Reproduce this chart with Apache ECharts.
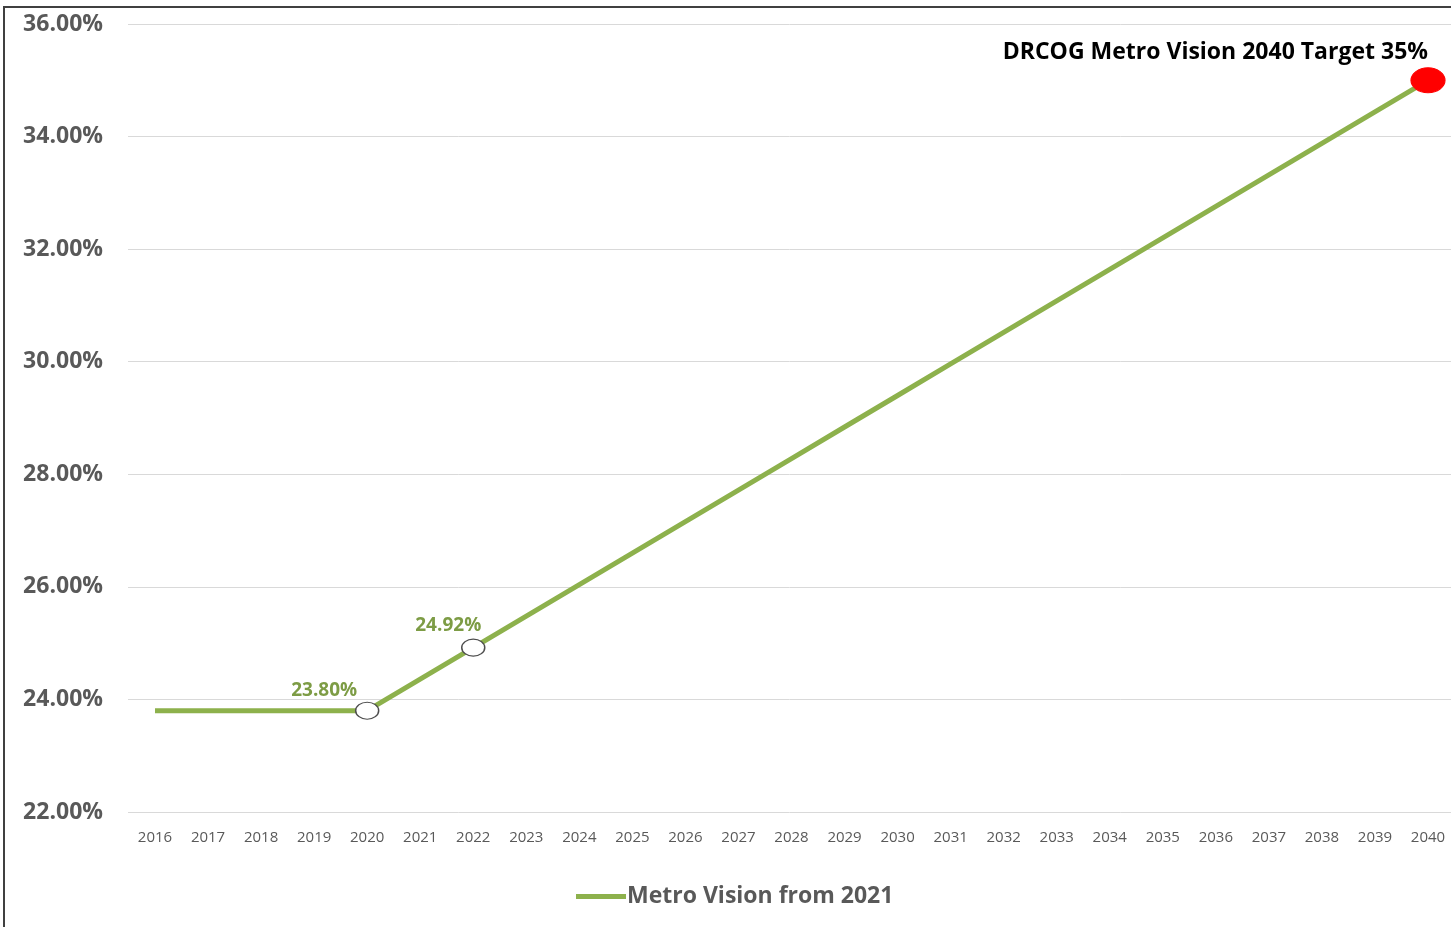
<!DOCTYPE html>
<html>
<head>
<meta charset="utf-8">
<script src="https://cdn.jsdelivr.net/npm/echarts@6/dist/echarts.min.js"></script>
<style>html,body{margin:0;padding:0;background:#fff}#c{width:1451px;height:927px}</style>
</head>
<body>
<div id="c"></div>
<script>
const years = ['2016','2017','2018','2019','2020','2021','2022','2023','2024','2025','2026','2027','2028','2029','2030','2031','2032','2033','2034','2035','2036','2037','2038','2039','2040'];
const metroVision = [23.80,23.80,23.80,23.80,23.80,24.36,24.92,25.48,26.04,26.60,27.16,27.72,28.28,28.84,29.40,29.96,30.52,31.08,31.64,32.20,32.76,33.32,33.88,34.44,35.00];
const seriesName = 'Metro Vision from 2021';
const labelledYears = ['2020','2022'];
const targetYear = '2040';
const targetText = 'DRCOG Metro Vision 2040 Target 35%';
const yMin = 22, yMax = 36, yStep = 2;

const FONT = '"Open Sans", "Noto Sans", sans-serif';
const GREEN = '#8db14c';
const labelOffsets = {'2020':[-43, 3], '2022':[-25, 2]};

const data = metroVision.map((v, i) => {
  const y = years[i];
  if (labelledYears.includes(y)) {
    return {
      value: v, symbol: 'circle', symbolSize: [23, 17],
      itemStyle: {color: '#ffffff', borderColor: '#4d4d4d', borderWidth: 1.3},
      label: {show: true, position: 'top', offset: labelOffsets[y],
        formatter: p => p.value.toFixed(2) + '%',
        color: '#7d9c45', fontWeight: 'bold', fontSize: 19, fontFamily: FONT}
    };
  }
  if (y === targetYear) {
    return {value: v, symbol: 'circle', symbolSize: [34, 25],
      itemStyle: {color: '#ff0000', borderColor: '#ff0000'}};
  }
  return {value: v, symbol: 'none'};
});

const chart = echarts.init(document.getElementById('c'), null, {renderer: 'canvas'});
chart.setOption({
  animation: false,
  backgroundColor: '#ffffff',
  textStyle: {fontFamily: FONT},
  grid: [
    {left: 155, right: 23, top: 24, bottom: 115},
    {left: 128, right: 0, top: 24, bottom: 115}
  ],
  title: {
    text: targetText, right: 18, top: 36,
    textStyle: {fontFamily: FONT, fontSize: 23, fontWeight: 'bold', color: '#000000'}
  },
  legend: {
    data: [seriesName], bottom: 14, left: 571,
    icon: 'rect', itemWidth: 50, itemHeight: 5, itemGap: 0,
    textStyle: {fontFamily: FONT, fontSize: 23, fontWeight: 'bold', color: '#595959', padding: [0,0,0,-4]}
  },
  xAxis: [{
    type: 'category', data: years, boundaryGap: false, gridIndex: 0,
    axisLine: {show: false},
    axisTick: {show: false},
    splitLine: {show: false},
    axisLabel: {color: '#595959', fontSize: 15, fontFamily: FONT, margin: 18, interval: 0}
  }, {
    type: 'value', gridIndex: 1, min: 0, max: 1, show: false
  }],
  yAxis: [{
    type: 'value', min: yMin, max: yMax, interval: yStep, gridIndex: 0,
    axisLine: {show: false}, axisTick: {show: false},
    splitLine: {show: false}, axisLabel: {show: false}
  }, {
    type: 'value', min: yMin, max: yMax, interval: yStep, gridIndex: 1,
    axisLine: {show: false}, axisTick: {show: false},
    splitLine: {show: true, lineStyle: {color: '#d9d9d9', width: 1}},
    axisLabel: {formatter: v => v.toFixed(2) + '%', color: '#595959', fontSize: 23,
      fontWeight: 'bold', fontFamily: FONT, margin: 25}
  }],
  series: [{
    name: seriesName, type: 'line', data: data, xAxisIndex: 0, yAxisIndex: 0,
    symbol: 'none', showSymbol: true,
    lineStyle: {color: GREEN, width: 5},
    itemStyle: {color: GREEN},
    z: 3
  }],
  graphic: [{
    type: 'rect', shape: {x: 4, y: 7, width: 1470, height: 950},
    style: {fill: 'none', stroke: '#404040', lineWidth: 2}, silent: true, z: 100
  }]
});
</script>
</body>
</html>
